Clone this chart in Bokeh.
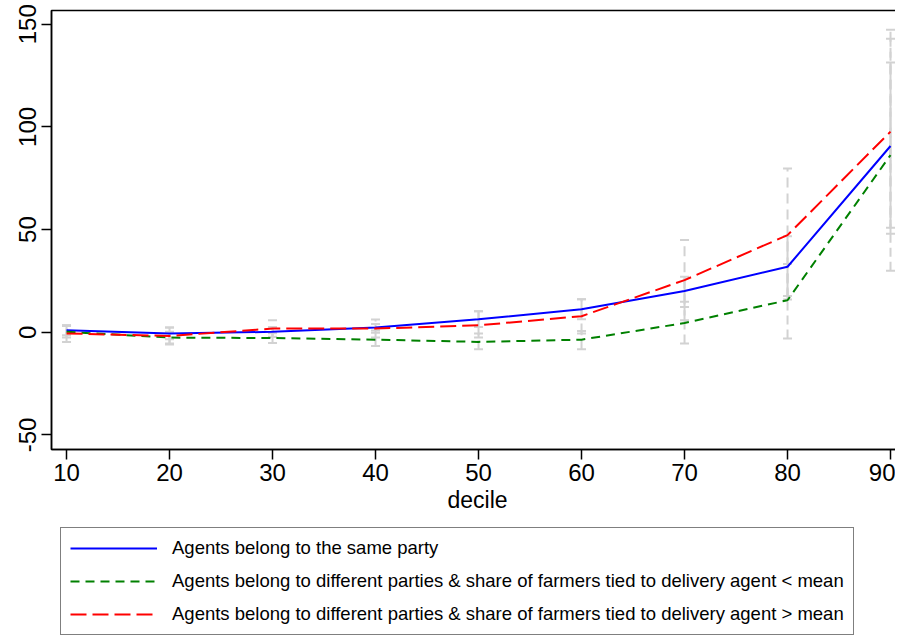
import math
from bokeh.plotting import figure
from bokeh.layouts import column
from bokeh.models import Range1d, FixedTicker, Legend, LegendItem, ColumnDataSource
from bokeh.embed import file_html
from bokeh.resources import INLINE

deciles = [10, 20, 30, 40, 50, 60, 70, 80, 90]

same_party = [1.0, -0.6, 0.2, 2.3, 6.3, 11.2, 20.1, 31.9, 90.7]
same_party_lo = [-1.5, -3.4, -2.2, 0.8, 2.6, 6.3, 12.3, 17.6, 50.9]
same_party_hi = [3.4, 2.3, 2.6, 4.0, 10.2, 16.1, 27.0, 46.8, 131.4]

diff_below = [0.2, -2.6, -2.8, -3.6, -4.7, -3.6, 4.5, 15.6, 86.3]
diff_below_lo = [-2.6, -5.5, -5.2, -6.7, -8.3, -8.3, -5.5, -3.1, 29.9]
diff_below_hi = [3.0, 0.3, -0.5, -0.3, -0.6, 0.6, 14.8, 33.2, 143.0]

diff_above = [-0.6, -1.8, 1.8, 1.8, 3.4, 7.8, 25.4, 47.3, 97.7]
diff_above_lo = [-4.7, -6.0, -2.3, -2.6, -2.6, -0.6, 5.9, 15.9, 48.0]
diff_above_hi = [3.4, 2.3, 5.9, 6.2, 10.2, 16.1, 44.9, 79.8, 147.3]

y_ticks = [-50, 0, 50, 100, 150]
x_ticks = [10, 20, 30, 40, 50, 60, 70, 80, 90]
y_tick_labels = {-50: "-50", 0: "0", 50: "50", 100: "100", 150: "150"}

labels = [
    "Agents belong to the same party",
    "Agents belong to different parties & share of farmers tied to delivery agent < mean",
    "Agents belong to different parties & share of farmers tied to delivery agent > mean",
]

FONT = "Liberation Sans"
GRAY = "#d2d2d2"
BLUE, GREEN, RED = "#0000ff", "#008000", "#ff0000"
DASH_GREEN, DASH_RED = "9 6", "16 6"

p = figure(frame_width=852, frame_height=439, output_backend="svg", toolbar_location=None,
           x_range=Range1d(8.54, 91.26), y_range=Range1d(-57.1, 156.7),
           min_border_left=51, min_border_right=1, min_border_top=10,
           min_border_bottom=78)
p.background_fill_color = "white"
p.border_fill_color = "white"
p.outline_line_color = "black"
p.outline_line_width = 1.5
p.grid.visible = False

# error bars
series = [
    (same_party_lo, same_party_hi, "solid"),
    (diff_below_lo, diff_below_hi, "9 5"),
    (diff_above_lo, diff_above_hi, "10 6"),
]
for lo, hi, dash in series:
    src = ColumnDataSource(dict(x=deciles, lo=lo, hi=hi))
    p.segment(x0="x", y0="lo", x1="x", y1="hi", source=src, line_color=GRAY,
              line_width=2, line_dash=dash)
    p.scatter(x="x", y="lo", source=src, marker="dash", size=9, line_color=GRAY, line_width=2)
    p.scatter(x="x", y="hi", source=src, marker="dash", size=9, line_color=GRAY, line_width=2)

p.line(deciles, same_party, line_color=BLUE, line_width=2)
p.line(deciles, diff_below, line_color=GREEN, line_width=2, line_dash=DASH_GREEN)
p.line(deciles, diff_above, line_color=RED, line_width=2, line_dash=DASH_RED)

for ax in (p.xaxis[0], p.yaxis[0]):
    ax.axis_line_color = "black"
    ax.axis_line_width = 1.5
    ax.major_tick_line_color = "black"
    ax.major_tick_line_width = 1.5
    ax.major_tick_out = 10
    ax.major_tick_in = 0
    ax.minor_tick_line_color = None
    ax.major_label_text_font = FONT
    ax.major_label_text_font_size = "24px"
    ax.major_label_text_color = "black"

p.xaxis.ticker = FixedTicker(ticks=x_ticks)
p.yaxis.ticker = FixedTicker(ticks=y_ticks)
p.yaxis.major_label_overrides = y_tick_labels
p.yaxis.major_label_orientation = "vertical"
p.yaxis.major_label_standoff = 5
p.xaxis.major_label_standoff = 4
p.xaxis.axis_label = "decile"
p.xaxis.axis_label_text_font = FONT
p.xaxis.axis_label_text_font_size = "23px"
p.xaxis.axis_label_text_font_style = "normal"
p.xaxis.axis_label_text_color = "black"
p.xaxis.axis_label_standoff = 3
# the y axis reserves more room than its rotated labels use; pull the chart left
p.styles = {"margin-left": "-9px"}

# legend panel below the chart (its lines fall outside its empty view)
lg = figure(width=904, height=109, output_backend="svg", toolbar_location=None,
            x_range=Range1d(0, 1), y_range=Range1d(1000, 1001),
            min_border_left=60, min_border_right=0, min_border_top=0, min_border_bottom=0,
            x_axis_type=None, y_axis_type=None)
lg.outline_line_color = None
lg.grid.visible = False
lg.background_fill_color = "white"
lg.border_fill_color = "white"
k1 = lg.line(deciles, same_party, line_color=BLUE, line_width=2)
k2 = lg.line(deciles, diff_below, line_color=GREEN, line_width=2, line_dash=DASH_GREEN)
k3 = lg.line(deciles, diff_above, line_color=RED, line_width=2, line_dash=DASH_RED)

legend = Legend(items=[LegendItem(label=labels[0], renderers=[k1]),
                       LegendItem(label=labels[1], renderers=[k2]),
                       LegendItem(label=labels[2], renderers=[k3])],
                location="top_left", margin=0, padding=9, spacing=11,
                glyph_width=87, glyph_height=22, label_height=22, label_standoff=15,
                label_text_font=FONT, label_text_font_size="18.5px",
                label_text_color="black",
                border_line_color="black", border_line_width=1,
                background_fill_color="white", background_fill_alpha=1.0)
lg.add_layout(legend, "center")

layout = column(p, lg, spacing=0)
open("out.html", "w").write(file_html(layout, INLINE))
